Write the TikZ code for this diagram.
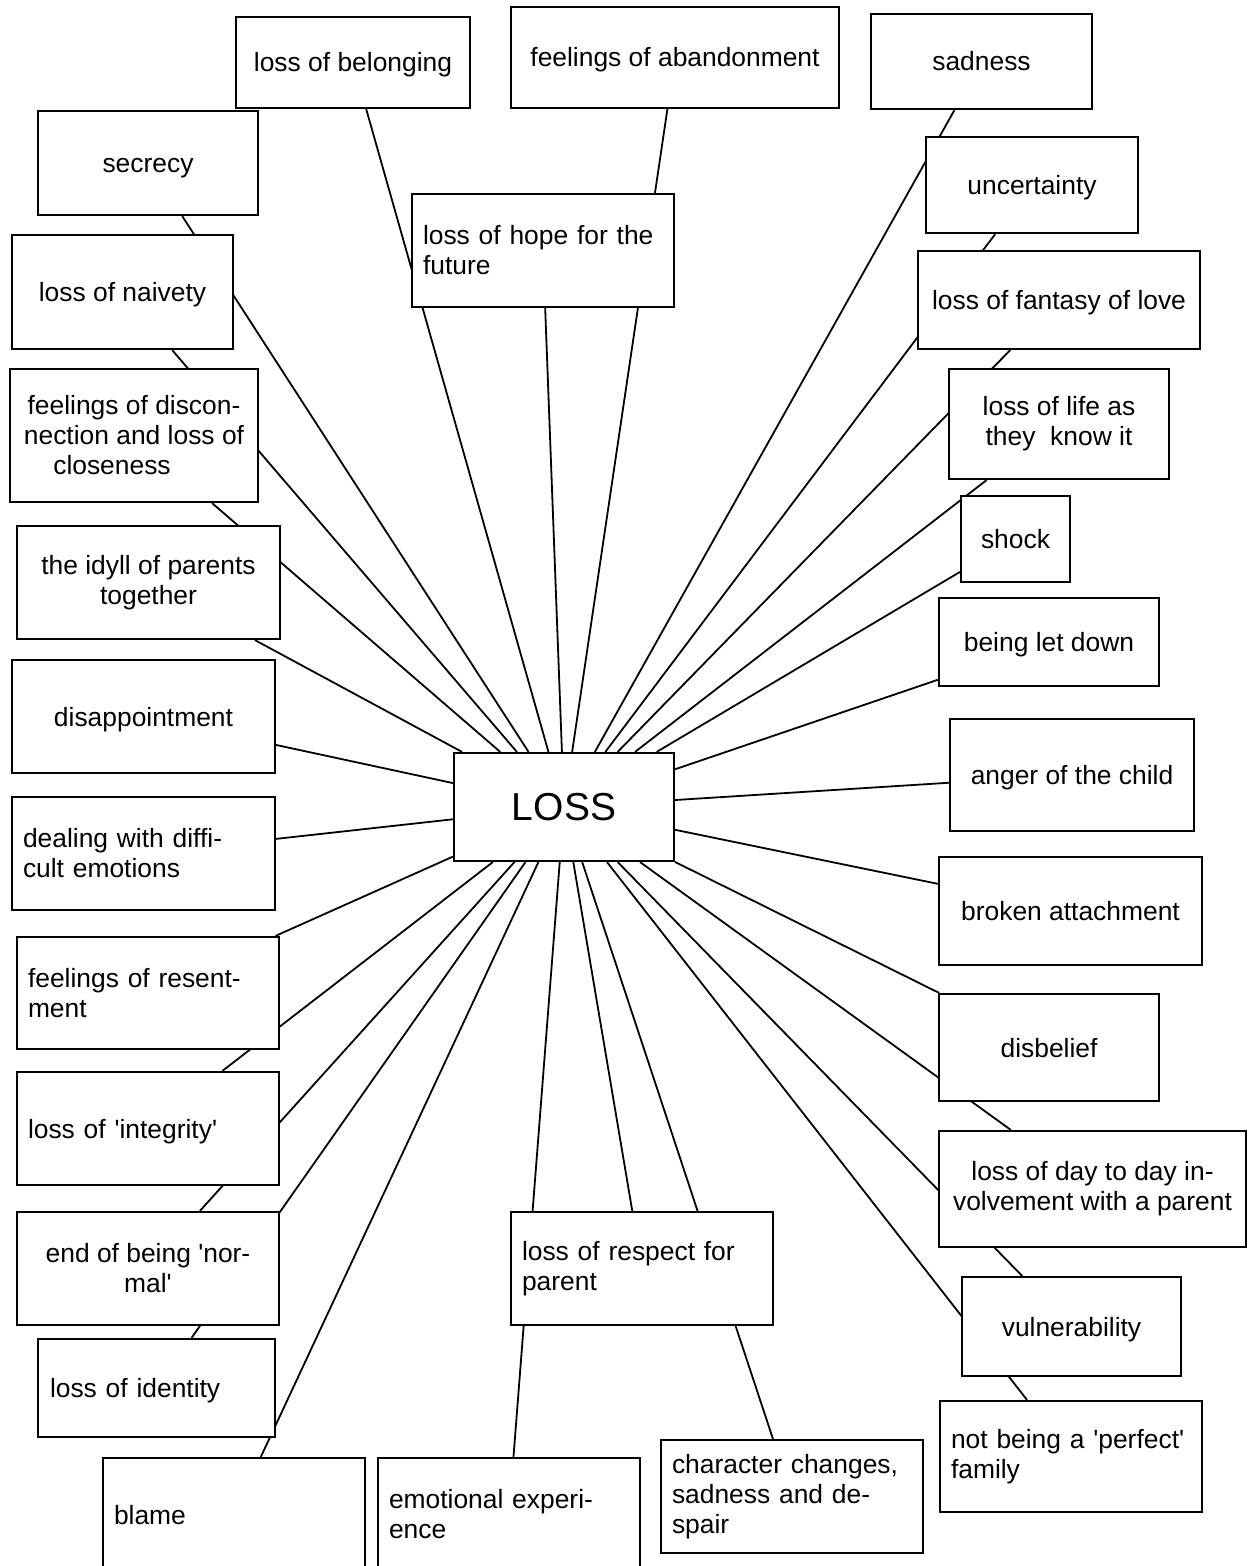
\documentclass[tikz,border=0pt]{standalone}
\usepackage{fontspec}
\setmainfont{Liberation Sans}
\usetikzlibrary{backgrounds}
\tikzset{
  topic/.style={draw, fill=white, line width=1.1pt, font=\fontsize{13.2}{15}\selectfont,
    inner xsep=5.5pt, inner ysep=3pt, align=center},
  lefttopic/.style={topic, align=left, text width=#1},
  oneline/.style={text height=9.5pt, text depth=0pt},
  spoke/.style={line width=0.9pt},
}
\newcommand{\sq}{\textquotesingle}

\begin{document}
\begin{tikzpicture}[x=0.5pt,y=-0.5pt]
  \useasboundingbox (0,0) rectangle (1256,1566);
  \node[topic, oneline, minimum width=117pt, minimum height=45.5pt] (belong) at (353,62.5) {loss of belonging};
  \node[topic, oneline, minimum width=164pt, minimum height=50.5pt] (abandon) at (675,57.5) {feelings of abandonment};
  \node[topic, oneline, minimum width=110.5pt, minimum height=47.5pt] (sadness) at (981.5,61.5) {sadness};
  \node[topic, oneline, minimum width=110pt, minimum height=52pt] (secrecy) at (148,163) {secrecy};
  \node[lefttopic=120pt, minimum width=131pt, minimum height=56.5pt] (hope) at (543,250.5) {loss of hope for the\\future};
  \node[topic, oneline, minimum width=106pt, minimum height=48pt] (uncertain) at (1032,185) {uncertainty};
  \node[topic, oneline, minimum width=110.5pt, minimum height=57pt] (naivety) at (122.5,292) {loss of naivety};
  \node[topic, oneline, minimum width=141pt, minimum height=49pt] (fantasy) at (1059,300) {loss of fantasy of love};
  \node[topic, minimum width=124pt, minimum height=66.5pt] (disconnect) at (134,435.5) {feelings of discon-\\nection and loss of\\closeness\hspace*{22pt}};
  \node[topic, minimum width=110pt, minimum height=55pt] (life) at (1059,424) {loss of life as\\they~~know it};
  \node[topic, minimum width=131.5pt, minimum height=56.5pt] (idyll) at (148.5,582.5) {the idyll of parents\\together};
  \node[topic, oneline, minimum width=54.5pt, minimum height=43pt] (shock) at (1015.5,539) {shock};
  \node[topic, oneline, minimum width=110pt, minimum height=44pt] (letdown) at (1049,642) {being let down};
  \node[topic, oneline, minimum width=131.5pt, minimum height=56.5pt] (disappoint) at (143.5,716.5) {disappointment};
  \node[topic, minimum width=110pt, minimum height=54pt, font=\fontsize{19.5}{22}\selectfont] (loss) at (564,807) {LOSS};
  \node[topic, oneline, minimum width=122pt, minimum height=56pt] (anger) at (1072,775) {anger of the child};
  \node[lefttopic=120.5pt, minimum width=131.5pt, minimum height=56.5pt] (dealing) at (143.5,853.5) {dealing with diffi-\\cult emotions};
  \node[topic, oneline, minimum width=131.5pt, minimum height=54pt] (broken) at (1070.5,911) {broken attachment};
  \node[lefttopic=120pt, minimum width=131pt, minimum height=56pt] (resent) at (148,993) {feelings of resent-\\ment};
  \node[topic, oneline, minimum width=110pt, minimum height=53.5pt] (disbelief) at (1049,1047.5) {disbelief};
  \node[lefttopic=120pt, oneline, minimum width=131pt, minimum height=56.5pt] (integrity) at (148,1128.5) {loss of \sq integrity\sq};
  \node[topic, minimum width=153.5pt, minimum height=58pt] (daytoday) at (1092.5,1189) {loss of day to day in-\\volvement with a parent};
  \node[topic, minimum width=131pt, minimum height=56.5pt] (normal) at (148,1268.5) {end of being \sq nor-\\mal\sq};
  \node[lefttopic=120pt, minimum width=131pt, minimum height=56.5pt] (respect) at (642,1268.5) {loss of respect for\\parent};
  \node[topic, oneline, minimum width=109.5pt, minimum height=49.5pt] (vulnerable) at (1071.5,1326.5) {vulnerability};
  \node[lefttopic=106.5pt, oneline, minimum width=118.5pt, minimum height=49pt] (identity) at (156.5,1388) {loss of identity};
  \node[lefttopic=120pt, minimum width=131pt, minimum height=55.5pt] (perfect) at (1071,1456.5) {not being a \sq perfect\sq\\family};
  \node[lefttopic=120pt, oneline, minimum width=131pt, minimum height=56.5pt] (blame) at (234,1514.5) {blame};
  \node[lefttopic=120pt, minimum width=131pt, minimum height=56.5pt] (emotional) at (509,1514.5) {emotional experi-\\ence};
  \node[lefttopic=120pt, minimum width=131pt, minimum height=56.5pt] (character) at (792,1496.5) {character changes,\\sadness and de-\\spair};
  \begin{pgfonlayer}{background}
    \foreach \t in {belong,abandon,sadness,secrecy,hope,uncertain,naivety,fantasy,
        disconnect,life,idyll,shock,letdown,disappoint,anger,dealing,broken,resent,
        disbelief,integrity,daytoday,normal,respect,vulnerable,identity,perfect,
        blame,emotional,character}
      \draw[spoke] (loss) -- (\t);
  \end{pgfonlayer}
\end{tikzpicture}
\end{document}
